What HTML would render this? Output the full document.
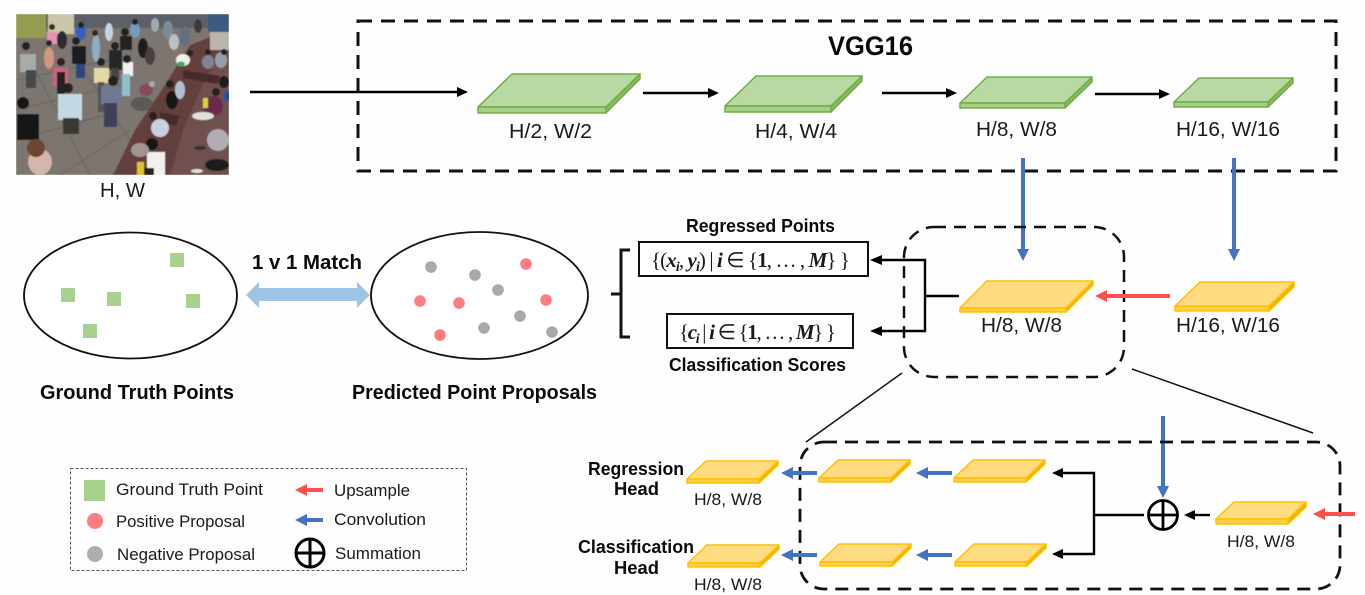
<!DOCTYPE html>
<html><head><meta charset="utf-8"><style>
html,body{margin:0;padding:0;background:#fff}
svg{display:block}
text{font-family:"Liberation Sans",sans-serif;fill:#1a1a1a}
.b{font-weight:bold;fill:#0a0a0a}
.m{font-family:"Liberation Serif",serif;font-size:21px}
</style></head><body>
<svg width="1365" height="595" viewBox="0 0 1365 595" xmlns="http://www.w3.org/2000/svg">
<defs>
<filter id="bl" x="-5%" y="-5%" width="110%" height="110%"><feGaussianBlur stdDeviation="0.55"/></filter>
<clipPath id="ph"><rect x="16" y="14" width="213" height="161"/></clipPath>
</defs>
<rect width="1365" height="595" fill="#fefefe"/>

<!-- photo -->
<g clip-path="url(#ph)"><g filter="url(#bl)">
<rect x="16" y="14" width="213" height="161" fill="#7b756f"/>
<g stroke="#6a645f" stroke-width="1">
<path d="M16,80 L110,60 M16,110 L120,85 M16,140 L105,115 M60,175 L130,130 M30,60 L90,175 M70,50 L130,140"/>
</g>
<polygon points="113,175 135,130 165,85 190,45 229,30 229,175" fill="#64403e"/>
<polygon points="170,175 185,125 205,80 225,45 229,45 229,175" fill="#70504f"/>
<rect x="16" y="14" width="213" height="14" fill="#5d6068"/>
<rect x="16" y="14" width="30" height="24" fill="#939c50"/>
<rect x="48" y="14" width="26" height="20" fill="#c9c6aa"/>
<rect x="208" y="14" width="21" height="18" fill="#3c5a80"/>
<rect x="210" y="32" width="19" height="18" fill="#b9b4ac"/>
<polygon points="183,70 220,76 218,84 183,78" fill="#4a2c2a"/>
<polygon points="160,112 180,116 176,126 160,122" fill="#4a2c2a"/>
<!-- people bodies -->
<rect x="20" y="54" width="16" height="18" fill="#a9aba9"/><rect x="26" y="70" width="10" height="18" fill="#45474c"/><circle cx="26" cy="46" r="4" fill="#222"/>
<rect x="47" y="32" width="10" height="12" fill="#e495b4"/><circle cx="52" cy="27" r="3" fill="#331"/>
<ellipse cx="62" cy="40" rx="5" ry="9" fill="#2f2a33"/>
<ellipse cx="49" cy="58" rx="5" ry="11" fill="#d29580"/><circle cx="49" cy="43" r="3" fill="#322"/>
<rect x="72" y="46" width="14" height="18" fill="#1f1f22"/><rect x="76" y="64" width="9" height="14" fill="#2a4a7a"/><circle cx="76" cy="41" r="4" fill="#222"/>
<rect x="53" y="68" width="15" height="18" fill="#d0607a"/><rect x="57" y="72" width="8" height="22" fill="#222"/><circle cx="61" cy="62" r="4" fill="#322"/>
<rect x="94" y="68" width="15" height="15" fill="#e3d9a6"/><circle cx="101" cy="62" r="4" fill="#222"/><rect x="98" y="82" width="6" height="30" fill="#555"/>
<rect x="109" y="50" width="13" height="20" fill="#252528"/><rect x="111" y="68" width="8" height="12" fill="#444"/><circle cx="115" cy="46" r="4" fill="#222"/>
<rect x="120" y="36" width="12" height="14" fill="#222"/><circle cx="125" cy="32" r="4" fill="#222"/>
<ellipse cx="96" cy="48" rx="4" ry="14" fill="#8cb0c6"/><circle cx="95" cy="33" r="3" fill="#322"/>
<ellipse cx="81" cy="32" rx="5" ry="8" fill="#3060c0"/><circle cx="81" cy="25" r="3" fill="#222"/>
<ellipse cx="109" cy="32" rx="4" ry="9" fill="#c8d4df"/>
<ellipse cx="135" cy="30" rx="5" ry="8" fill="#6e9dbf"/><circle cx="135" cy="22" r="3" fill="#222"/>
<ellipse cx="143" cy="48" rx="5" ry="10" fill="#1e1e1e"/>
<ellipse cx="150" cy="56" rx="5" ry="9" fill="#484040"/>
<ellipse cx="168" cy="30" rx="5" ry="9" fill="#7d8b98"/>
<ellipse cx="174" cy="42" rx="5" ry="8" fill="#bcc0c4"/>
<ellipse cx="185" cy="36" rx="5" ry="10" fill="#5f7080"/>
<ellipse cx="155" cy="25" rx="4" ry="7" fill="#a0a8b0"/>
<ellipse cx="198" cy="26" rx="4" ry="7" fill="#3a3a3a"/>
<ellipse cx="183" cy="60" rx="7" ry="6" fill="#f0f0ea"/><ellipse cx="181" cy="64" rx="4" ry="2.500" fill="#30b060"/><circle cx="190" cy="53" r="3" fill="#222"/>
<ellipse cx="208" cy="62" rx="6" ry="7" fill="#7f8590"/><circle cx="208" cy="52" r="3" fill="#222"/>
<ellipse cx="221" cy="60" rx="6" ry="8" fill="#96a0ad"/><circle cx="224" cy="52" r="3" fill="#222"/>
<rect x="123" y="62" width="10" height="14" fill="#f0f0f0"/><circle cx="127" cy="59" r="4" fill="#222"/><rect x="122" y="74" width="8" height="22" fill="#8fc0c8"/>
<rect x="101" y="86" width="20" height="18" fill="#6e7992"/><rect x="104" y="103" width="13" height="24" fill="#3c3f58"/><circle cx="113" cy="81" r="5" fill="#222"/>
<rect x="58" y="94" width="24" height="26" fill="#c5d8e6"/><rect x="63" y="118" width="16" height="16" fill="#3a3733"/><circle cx="68" cy="88" r="5" fill="#222"/>
<rect x="17" y="114" width="22" height="26" fill="#151515"/><circle cx="23" cy="103" r="6" fill="#151515"/>
<ellipse cx="40" cy="162" rx="12" ry="13" fill="#d4b6ac"/><circle cx="36" cy="148" r="9" fill="#6e4530"/>
<ellipse cx="146" cy="90" rx="7" ry="6" fill="#8a4a5a"/><circle cx="152" cy="84" r="3" fill="#aaa"/><ellipse cx="142" cy="104" rx="11" ry="7" fill="#5a5a5a"/>
<ellipse cx="172" cy="100" rx="6" ry="9" fill="#151515"/><ellipse cx="180" cy="90" rx="5" ry="9" fill="#b0bfd0"/><circle cx="170" cy="84" r="4" fill="#222"/>
<ellipse cx="160" cy="128" rx="9" ry="9" fill="#c8d2df"/><circle cx="153" cy="116" r="4" fill="#222"/>
<rect x="147" y="152" width="18" height="23" fill="#f0f0ee"/><circle cx="152" cy="144" r="6" fill="#151515"/>
<ellipse cx="140" cy="150" rx="9" ry="7" fill="#a09590"/>
<rect x="137" y="162" width="7" height="13" fill="#e0c030"/><rect x="144" y="168" width="10" height="7" fill="#222"/>
<ellipse cx="213" cy="106" rx="10" ry="10" fill="#6a2c50"/><ellipse cx="203" cy="116" rx="11" ry="4" fill="#e0e0dc"/><circle cx="216" cy="92" r="4" fill="#222"/>
<ellipse cx="218" cy="140" rx="11" ry="11" fill="#b0aeb4"/><ellipse cx="200" cy="148" rx="6" ry="2" fill="#333"/>
<ellipse cx="217" cy="165" rx="12" ry="6" fill="#1a1a1a"/><ellipse cx="197" cy="171" rx="6" ry="2" fill="#ddd"/>
<ellipse cx="224" cy="82" rx="5" ry="6" fill="#1b1b1b"/><ellipse cx="227" cy="96" rx="3" ry="6" fill="#2050a0"/>
<rect x="203" y="98" width="5" height="10" fill="#e0d030"/>
</g></g>
<text x="100" y="197" font-size="20.500" textLength="45" lengthAdjust="spacingAndGlyphs">H, W</text>

<!-- VGG box -->
<rect x="358" y="21" width="978" height="150" fill="none" stroke="#111" stroke-width="3" stroke-dasharray="14 9"/>
<text class="b" x="828" y="55" font-size="27" textLength="85" lengthAdjust="spacingAndGlyphs">VGG16</text>

<!-- green plates -->
<g fill="#b9d9a2" stroke="#70ad47" stroke-width="1.500" stroke-linejoin="round">
<polygon points="478,107 512,74 640,74 606,107"/><polygon points="478,107 606,107 606,113 478,113" fill="#a5cf88"/><polygon points="606,107 640,74 640,79 606,113" fill="#84bb60"/>
<polygon points="725,106 756,76 862,76 831,106"/><polygon points="725,106 831,106 831,112 725,112" fill="#a5cf88"/><polygon points="831,106 862,76 862,81 831,112" fill="#84bb60"/>
<polygon points="960,103 987,77 1092,77 1065,103"/><polygon points="960,103 1065,103 1065,108 960,108" fill="#a5cf88"/><polygon points="1065,103 1092,77 1092,82 1065,108" fill="#84bb60"/>
<polygon points="1174,102 1199,78 1293,78 1268,102"/><polygon points="1174,102 1268,102 1268,107 1174,107" fill="#a5cf88"/><polygon points="1268,102 1293,78 1293,83 1268,107" fill="#84bb60"/>
</g>
<g font-size="20.500">
<text x="509" y="138" textLength="83" lengthAdjust="spacingAndGlyphs">H/2, W/2</text>
<text x="755" y="138" textLength="82" lengthAdjust="spacingAndGlyphs">H/4, W/4</text>
<text x="976" y="136" textLength="81" lengthAdjust="spacingAndGlyphs">H/8, W/8</text>
<text x="1176" y="136" textLength="104" lengthAdjust="spacingAndGlyphs">H/16, W/16</text>
<text x="981" y="332" textLength="81" lengthAdjust="spacingAndGlyphs">H/8, W/8</text>
<text x="1176" y="332" textLength="104" lengthAdjust="spacingAndGlyphs">H/16, W/16</text>
</g>

<!-- black arrows top -->
<g stroke="#000" stroke-width="2.400" fill="none">
<line x1="250" y1="92" x2="458" y2="92"/><line x1="643" y1="93" x2="710" y2="93"/><line x1="882" y1="93" x2="948" y2="93"/><line x1="1095" y1="94" x2="1161" y2="94"/>
</g>
<g fill="#000">
<polygon points="468,92 457,87 457,97"/><polygon points="719,93 708,88 708,98"/><polygon points="957,93 946,88 946,98"/><polygon points="1170,94 1159,89 1159,99"/>
</g>

<!-- blue down arrows -->
<g fill="#4472c4">
<rect x="1021" y="158" width="4" height="92"/><polygon points="1023,261 1017,249 1029,249"/>
<rect x="1232" y="158" width="4" height="92"/><polygon points="1234,261 1228,249 1240,249"/>
<rect x="1161" y="416" width="4" height="72"/><polygon points="1163,498 1157,486 1169,486"/>
</g>

<!-- ellipses -->
<ellipse cx="130.500" cy="295.500" rx="106.500" ry="63" fill="#fff" stroke="#111" stroke-width="1.800"/>
<ellipse cx="479.500" cy="295.500" rx="108.500" ry="63.500" fill="#fff" stroke="#111" stroke-width="1.800"/>
<g fill="#a9d18e">
<rect x="170" y="253" width="14" height="14"/><rect x="61" y="288" width="14" height="14"/><rect x="107" y="292" width="14" height="14"/><rect x="186" y="294" width="14" height="14"/><rect x="83" y="324" width="14" height="14"/>
</g>
<g fill="#a9a9a9">
<circle cx="431" cy="267" r="5.800"/><circle cx="475" cy="275" r="5.800"/><circle cx="498" cy="290" r="5.800"/><circle cx="520" cy="316" r="5.800"/><circle cx="484" cy="328" r="5.800"/><circle cx="552" cy="332" r="5.800"/>
</g>
<g fill="#ff7c80">
<circle cx="526" cy="264" r="5.800"/><circle cx="420" cy="301" r="5.800"/><circle cx="459" cy="303" r="5.800"/><circle cx="546" cy="300" r="5.800"/><circle cx="440" cy="335" r="5.800"/>
</g>
<polygon points="246,295 259,282 259,288 357,288 357,282 370,295 357,308 357,301 259,301 259,308" fill="#9dc3e6"/>
<text class="b" x="252" y="269" font-size="20.500" textLength="110" lengthAdjust="spacingAndGlyphs">1 v 1 Match</text>
<text class="b" x="40" y="399" font-size="20.500" textLength="194" lengthAdjust="spacingAndGlyphs">Ground Truth Points</text>
<text class="b" x="352" y="399" font-size="20.500" textLength="245" lengthAdjust="spacingAndGlyphs">Predicted Point Proposals</text>

<!-- bracket -->
<path d="M630,250 H621 V337 H630 M611,294 H621" fill="none" stroke="#111" stroke-width="3"/>
<!-- formula boxes -->
<rect x="639" y="242" width="229" height="34" fill="#fff" stroke="#111" stroke-width="2"/>
<rect x="667" y="314" width="186" height="34" fill="#fff" stroke="#111" stroke-width="2"/>
<text class="m" x="651" y="267" textLength="199" lengthAdjust="spacing">{(<tspan font-weight="bold" font-style="italic">x</tspan><tspan font-weight="bold" font-style="italic" font-size="14" dy="4">i</tspan><tspan dy="-4">, </tspan><tspan font-weight="bold" font-style="italic">y</tspan><tspan font-weight="bold" font-style="italic" font-size="14" dy="4">i</tspan><tspan dy="-4">) | </tspan><tspan font-weight="bold" font-style="italic">i</tspan> ∈ {<tspan font-weight="bold">1</tspan>, … , <tspan font-weight="bold" font-style="italic">M</tspan>} }</text>
<text class="m" x="679" y="339" textLength="157" lengthAdjust="spacing">{<tspan font-weight="bold" font-style="italic">c</tspan><tspan font-weight="bold" font-style="italic" font-size="14" dy="4">i</tspan><tspan dy="-4"> | </tspan><tspan font-weight="bold" font-style="italic">i</tspan> ∈ {<tspan font-weight="bold">1</tspan>, … , <tspan font-weight="bold" font-style="italic">M</tspan>} }</text>
<text class="b" x="686" y="232" font-size="18" textLength="149" lengthAdjust="spacingAndGlyphs">Regressed Points</text>
<text class="b" x="669" y="371" font-size="18" textLength="177" lengthAdjust="spacingAndGlyphs">Classification Scores</text>

<!-- connectors -->
<path d="M880,260 H925 V331 H880 M925,296 H959" fill="none" stroke="#000" stroke-width="2.400"/>
<polygon points="870,260 882,255 882,265" fill="#000"/><polygon points="870,331 882,326 882,336" fill="#000"/>

<!-- zoom boxes -->
<rect x="904" y="227" width="220" height="150" rx="30" ry="30" fill="none" stroke="#111" stroke-width="2.500" stroke-dasharray="12 8"/>
<line x1="902" y1="373" x2="806" y2="442" stroke="#111" stroke-width="1.500"/>
<line x1="1132" y1="369" x2="1313" y2="433" stroke="#111" stroke-width="1.500"/>
<rect x="800" y="442" width="540" height="147" rx="24" ry="24" fill="none" stroke="#111" stroke-width="2.800" stroke-dasharray="13 8"/>

<!-- yellow plates -->
<g fill="#ffdc82" stroke="#ffc000" stroke-width="1.500" stroke-linejoin="round">
<polygon points="960,308 987,281 1093,281 1066,308"/><polygon points="960,308 1066,308 1066,312 960,312" fill="#ffd04a"/><polygon points="1066,308 1093,281 1093,285 1066,312" fill="#f0b400"/>
<polygon points="1175,306 1200,282 1294,282 1269,306"/><polygon points="1175,306 1269,306 1269,311 1175,311" fill="#ffd04a"/><polygon points="1269,306 1294,282 1294,287 1269,311" fill="#f0b400"/>
<polygon points="687,479 706,461 778,461 759,479"/><polygon points="687,479 759,479 759,483 687,483" fill="#ffd04a"/><polygon points="759,479 778,461 778,465 759,483" fill="#f0b400"/>
<polygon points="819,478 838,460 910,460 891,478"/><polygon points="819,478 891,478 891,482 819,482" fill="#ffd04a"/><polygon points="891,478 910,460 910,464 891,482" fill="#f0b400"/>
<polygon points="954,478 973,460 1045,460 1026,478"/><polygon points="954,478 1026,478 1026,482 954,482" fill="#ffd04a"/><polygon points="1026,478 1045,460 1045,464 1026,482" fill="#f0b400"/>
<polygon points="688,563 707,545 779,545 760,563"/><polygon points="688,563 760,563 760,567 688,567" fill="#ffd04a"/><polygon points="760,563 779,545 779,549 760,567" fill="#f0b400"/>
<polygon points="820,562 839,544 911,544 892,562"/><polygon points="820,562 892,562 892,566 820,566" fill="#ffd04a"/><polygon points="892,562 911,544 911,548 892,566" fill="#f0b400"/>
<polygon points="955,562 974,544 1046,544 1027,562"/><polygon points="955,562 1027,562 1027,566 955,566" fill="#ffd04a"/><polygon points="1027,562 1046,544 1046,548 1027,566" fill="#f0b400"/>
<polygon points="1216,519 1234,502 1306,502 1288,519"/><polygon points="1216,519 1288,519 1288,524 1216,524" fill="#ffd04a"/><polygon points="1288,519 1306,502 1306,507 1288,524" fill="#f0b400"/>
</g>

<!-- red arrows -->
<g fill="#ff5050">
<rect x="1106" y="294" width="64" height="4"/><polygon points="1095,296 1107,290 1107,302"/>
<rect x="1324" y="512" width="31" height="4"/><polygon points="1313,514 1325,508 1325,520"/>
<rect x="306" y="488" width="17" height="4"/><polygon points="295,490 307,484 307,496"/>
</g>
<!-- blue left arrows -->
<g fill="#4472c4">
<rect x="792" y="471" width="25" height="4"/><polygon points="781,473 793,467 793,479"/>
<rect x="927" y="471" width="25" height="4"/><polygon points="916,473 928,467 928,479"/>
<rect x="792" y="553" width="25" height="4"/><polygon points="781,555 793,549 793,561"/>
<rect x="927" y="553" width="25" height="4"/><polygon points="916,555 928,549 928,561"/>
<rect x="306" y="518" width="17" height="4"/><polygon points="295,520 307,514 307,526"/>
</g>

<!-- lower connectors -->
<path d="M1062,473 H1094 V554 H1062 M1094,515 H1144" fill="none" stroke="#000" stroke-width="2.400"/>
<polygon points="1052,473 1063,468 1063,478" fill="#000"/><polygon points="1052,554 1063,549 1063,559" fill="#000"/>
<line x1="1194" y1="515" x2="1210" y2="515" stroke="#000" stroke-width="2.400"/>
<polygon points="1184,515 1195,510 1195,520" fill="#000"/>
<g fill="none" stroke="#000" stroke-width="2.800">
<circle cx="1163" cy="515" r="14.500"/><path d="M1148.500,515 H1177.500 M1163,500.500 V529.500"/>
</g>

<g font-size="16.500">
<text x="694" y="505" textLength="68" lengthAdjust="spacingAndGlyphs">H/8, W/8</text>
<text x="694" y="590" textLength="68" lengthAdjust="spacingAndGlyphs">H/8, W/8</text>
<text x="1227" y="547" textLength="68" lengthAdjust="spacingAndGlyphs">H/8, W/8</text>
</g>
<text class="b" x="588" y="475" font-size="18" textLength="96" lengthAdjust="spacingAndGlyphs">Regression</text>
<text class="b" x="614" y="495" font-size="18" textLength="45" lengthAdjust="spacingAndGlyphs">Head</text>
<text class="b" x="578" y="553" font-size="18" textLength="116" lengthAdjust="spacingAndGlyphs">Classification</text>
<text class="b" x="614" y="574" font-size="18" textLength="45" lengthAdjust="spacingAndGlyphs">Head</text>

<!-- legend -->
<rect x="70.500" y="468.500" width="396" height="102" fill="none" stroke="#555" stroke-width="1" stroke-dasharray="3 2"/>
<rect x="84" y="480" width="21" height="21" fill="#a9d18e"/>
<circle cx="95" cy="521" r="8" fill="#ff7c80"/>
<circle cx="95" cy="554" r="8" fill="#aeaeae"/>
<g fill="none" stroke="#000" stroke-width="3">
<circle cx="310" cy="553" r="14"/><path d="M296,553 H324 M310,539 V567"/>
</g>
<g font-size="17">
<text x="116" y="495" textLength="147" lengthAdjust="spacingAndGlyphs">Ground Truth Point</text>
<text x="116" y="527" textLength="129" lengthAdjust="spacingAndGlyphs">Positive Proposal</text>
<text x="117" y="560" textLength="138" lengthAdjust="spacingAndGlyphs">Negative Proposal</text>
<text x="334" y="496" textLength="76" lengthAdjust="spacingAndGlyphs">Upsample</text>
<text x="334" y="525" textLength="92" lengthAdjust="spacingAndGlyphs">Convolution</text>
<text x="335" y="559" textLength="86" lengthAdjust="spacingAndGlyphs">Summation</text>
</g>
</svg>
</body></html>
